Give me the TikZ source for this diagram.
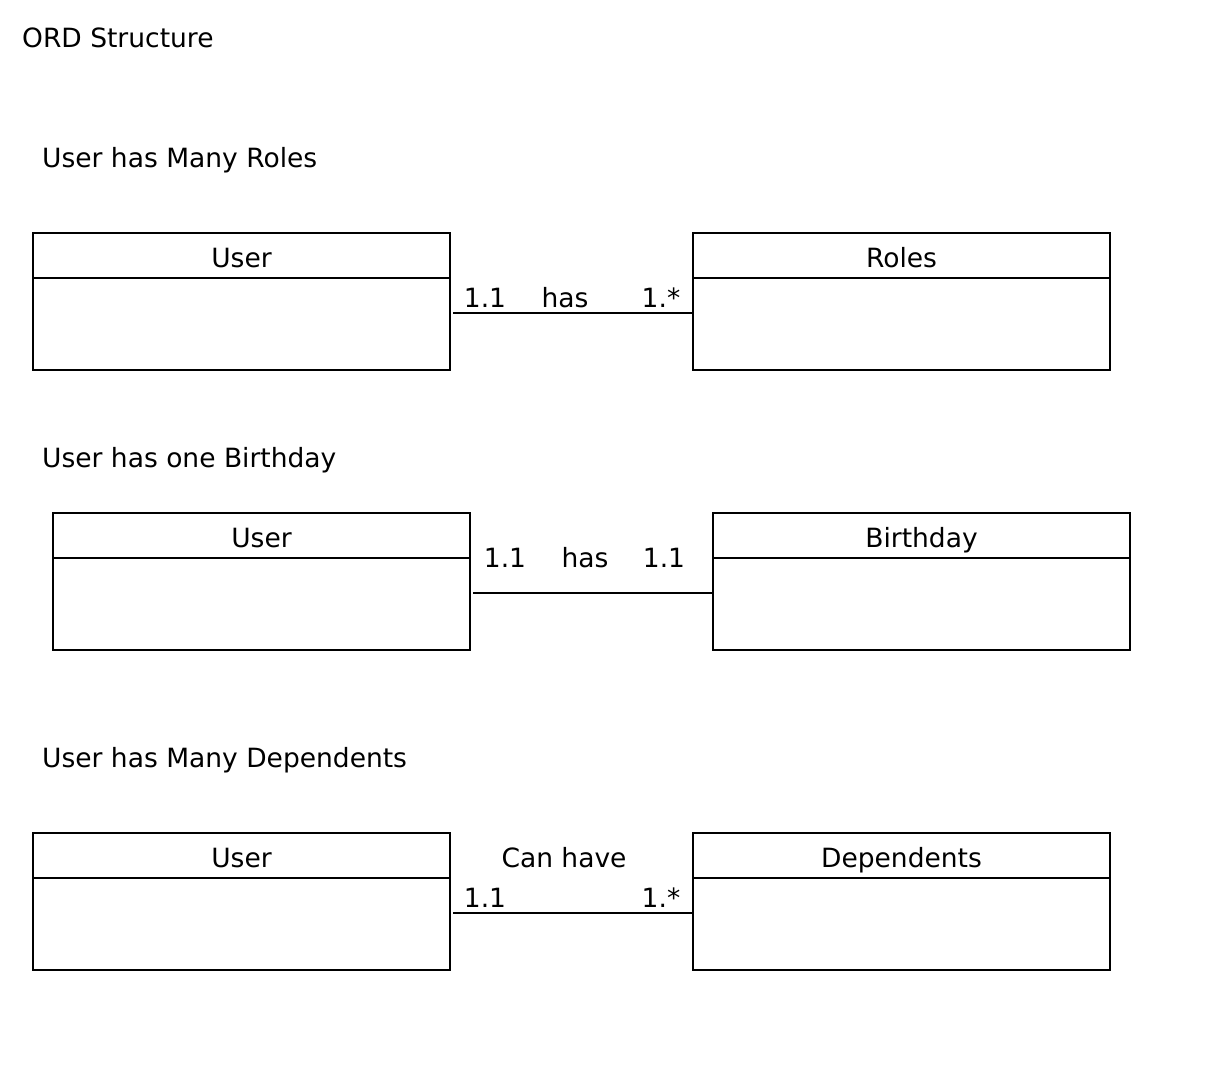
\documentclass[tikz,border=0pt]{standalone}
\usepackage{fontspec}
\setmainfont{DejaVu Sans}
\begin{document}
\begin{tikzpicture}[x=1pt,y=-1pt,
  every node/.style={font=\fontsize{26.5}{30}\selectfont, inner sep=0pt},
  classbox/.style={draw, line width=2pt, minimum width=417pt, minimum height=137pt},
  divider/.style={line width=2pt},
  assoc/.style={line width=2pt},
  lbl/.style={anchor=base}]
\useasboundingbox (0,0) rectangle (1216,1072);
\node[anchor=base west] (t0) at (22,47) {ORD Structure};

% ---- Section 1
\node[anchor=base west] (t1) at (42,167) {User has Many Roles};
\node[classbox] (u1) at (241.5,301.5) {};
\node[classbox] (r1) at (901.5,301.5) {};
\draw[divider] ([yshift=-46pt]u1.north west) -- ([yshift=-46pt]u1.north east);
\draw[divider] ([yshift=-46pt]r1.north west) -- ([yshift=-46pt]r1.north east);
\node[lbl] (u1n) at (241.5,267) {User};
\node[lbl] (r1n) at (901.5,267) {Roles};
\coordinate (a1s) at ([xshift=2pt,yshift=-11.5pt]u1.east);
\coordinate (a1e) at ([yshift=-11.5pt]r1.west);
\draw[assoc] (a1s) -- (a1e);
\node[lbl] (m1a) at (485,307) {1.1};
\node[lbl] (h1) at (565,307) {has};
\node[lbl] (m1b) at (661,307) {1.*};

% ---- Section 2
\node[anchor=base west] (t2) at (42,467) {User has one Birthday};
\node[classbox] (u2) at (261.5,581.5) {};
\node[classbox] (b2) at (921.5,581.5) {};
\draw[divider] ([yshift=-46pt]u2.north west) -- ([yshift=-46pt]u2.north east);
\draw[divider] ([yshift=-46pt]b2.north west) -- ([yshift=-46pt]b2.north east);
\node[lbl] (u2n) at (261.5,547) {User};
\node[lbl] (b2n) at (921.5,547) {Birthday};
\coordinate (a2s) at ([xshift=2pt,yshift=-11.5pt]u2.east);
\coordinate (a2e) at ([yshift=-11.5pt]b2.west);
\draw[assoc] (a2s) -- (a2e);
\node[lbl] (m2a) at (505,567) {1.1};
\node[lbl] (h2) at (585,567) {has};
\node[lbl] (m2b) at (664,567) {1.1};

% ---- Section 3
\node[anchor=base west] (t3) at (42,767) {User has Many Dependents};
\node[classbox] (u3) at (241.5,901.5) {};
\node[classbox] (d3) at (901.5,901.5) {};
\draw[divider] ([yshift=-46pt]u3.north west) -- ([yshift=-46pt]u3.north east);
\draw[divider] ([yshift=-46pt]d3.north west) -- ([yshift=-46pt]d3.north east);
\node[lbl] (u3n) at (241.5,867) {User};
\node[lbl] (d3n) at (901.5,867) {Dependents};
\coordinate (a3s) at ([xshift=2pt,yshift=-11.5pt]u3.east);
\coordinate (a3e) at ([yshift=-11.5pt]d3.west);
\draw[assoc] (a3s) -- (a3e);
\node[lbl] (c3) at (564,867) {Can have};
\node[lbl] (m3a) at (485,907) {1.1};
\node[lbl] (m3b) at (661,907) {1.*};
\end{tikzpicture}
\end{document}
